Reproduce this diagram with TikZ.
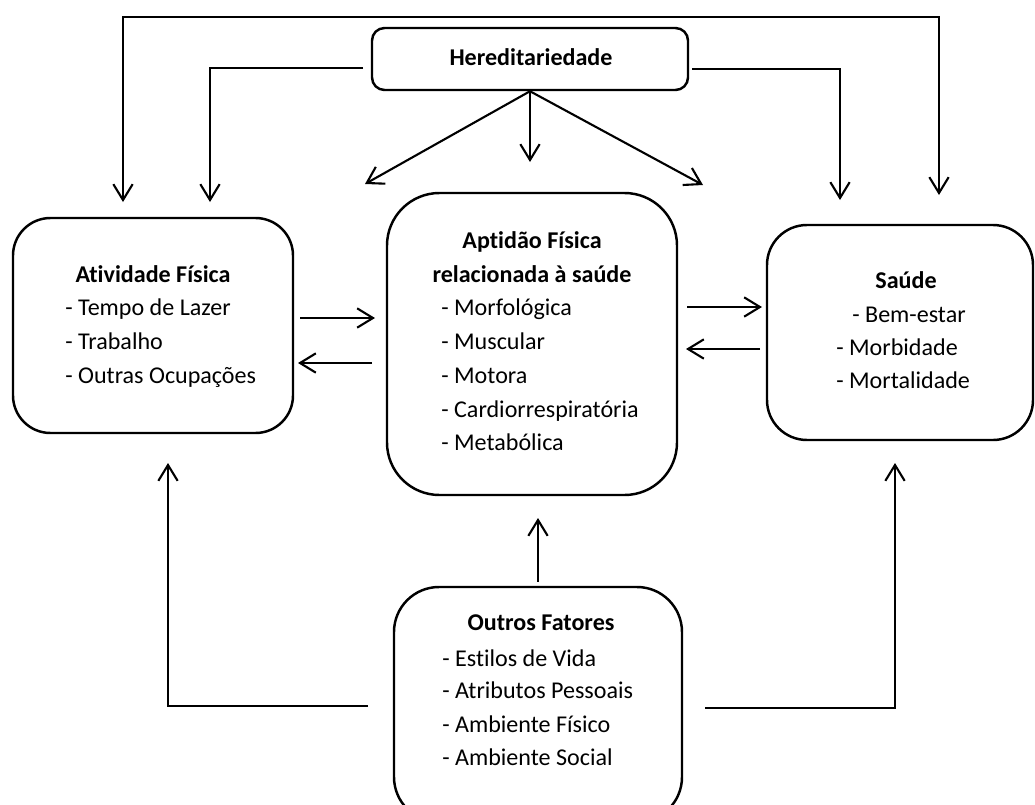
\documentclass[tikz,border=0pt]{standalone}
\usepackage{fontspec}
\setmainfont[Ligatures=NoCommon]{Carlito}
\usetikzlibrary{arrows.meta,fit}
\begin{document}
\begin{tikzpicture}[x=0.02cm,y=-0.02cm,
  box/.style={draw,line width=1.4pt,rounded corners=#1,inner sep=0pt},
  arr/.style={line width=1.2pt,-{Straight Barb[length=9pt,width=11pt]}},
  both/.style={line width=1.2pt,{Straight Barb[length=9pt,width=11pt]}-{Straight Barb[length=9pt,width=11pt]}},
  txt/.style={inner sep=0pt,font=\fontsize{13.7}{19}\selectfont},
  head/.style={txt,anchor=base,font=\fontsize{13.7}{19}\selectfont\bfseries},
  item/.style={txt,anchor=base west}
]
\clip (0,0) rectangle (1035,805);
\fill[white] (0,0) rectangle (1035,805);

% boxes
\node[box=0.25cm, fit={(372,28) (688,90)}] (hered) {};
\node[box=0.75cm, fit={(13,218) (293,433)}] (atv) {};
\node[box=1.05cm, fit={(387,193) (677,495)}] (apt) {};
\node[box=0.8cm, fit={(767,225) (1033,440)}] (sau) {};
\node[box=0.9cm, fit={(394,587) (682,822)}] (out) {};

% texts
\node[head] (heredT) at (531,65) {Hereditariedade};

\node[head] (atvT) at (153,282) {Atividade Física};
\node[item] (atv1) at (65,315) {- Tempo de Lazer};
\node[item] (atv2) at (65,349) {- Trabalho};
\node[item] (atv3) at (65,383) {- Outras Ocupações};

\node[head] (aptT1) at (532,248) {Aptidão Física};
\node[head] (aptT2) at (532,282) {relacionada à saúde};
\node[item] (apt1) at (441,315) {- Morfológica};
\node[item] (apt2) at (441,349) {- Muscular};
\node[item] (apt3) at (441,383) {- Motora};
\node[item] (apt4) at (441,417) {- Cardiorrespiratória};
\node[item] (apt5) at (441,450) {- Metabólica};

\node[head] (sauT) at (906,288) {Saúde};
\node[item] (sau1) at (852,322) {- Bem-estar};
\node[item] (sau2) at (836,355) {- Morbidade};
\node[item] (sau3) at (836,388) {- Mortalidade};

\node[head] (outT) at (541,630) {Outros Fatores};
\node[item] (out1) at (442,666) {- Estilos de Vida};
\node[item] (out2) at (442,698) {- Atributos Pessoais};
\node[item] (out3) at (442,732) {- Ambiente Físico};
\node[item] (out4) at (442,765) {- Ambiente Social};

% connector end points
\coordinate (topL) at (123,202);
\coordinate (topR) at (939,195);
\coordinate (hL) at (363,68);
\coordinate (hLtip) at (210,202);
\coordinate (hR) at (692,69);
\coordinate (hRtip) at (840,200);
\coordinate (dL) at (365,184);
\coordinate (dM) at (530,162);
\coordinate (dR) at (703,185);
\coordinate (a1s) at (300,318);
\coordinate (a1e) at (375,318);
\coordinate (a2s) at (372,363);
\coordinate (a2e) at (298,363);
\coordinate (b1s) at (687,307);
\coordinate (b1e) at (762,307);
\coordinate (b2s) at (760,349);
\coordinate (b2e) at (686,349);
\coordinate (oUp) at (538,518);
\coordinate (oL) at (368,706);
\coordinate (oLtip) at (168,463);
\coordinate (oR) at (705,708);
\coordinate (oRtip) at (895,463);

% connectors
\draw[both] (topL) -- ++(0,-185) -| (topR);
\draw[arr] (hL) -| (hLtip);
\draw[arr] (hR) -| (hRtip);
\draw[arr] (hered.south) -- (dL);
\draw[arr] (hered.south) -- (dM);
\draw[arr] (hered.south) -- (dR);
\draw[arr] (a1s) -- (a1e);
\draw[arr] (a2s) -- (a2e);
\draw[arr] (b1s) -- (b1e);
\draw[arr] (b2s) -- (b2e);
\draw[arr] ([yshift=0.08cm]out.north) -- (oUp);
\draw[arr] (oL) -| (oLtip);
\draw[arr] (oR) -| (oRtip);
\end{tikzpicture}
\end{document}
